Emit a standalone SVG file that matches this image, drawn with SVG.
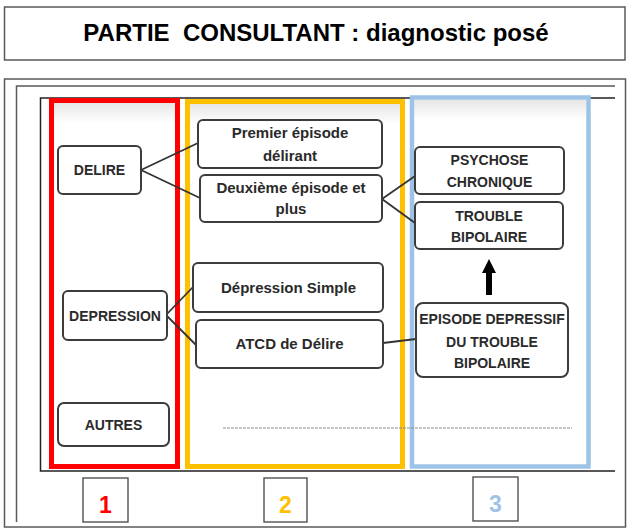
<svg xmlns="http://www.w3.org/2000/svg" width="628" height="530" viewBox="0 0 628 530">
<style>
.frame{fill:none;stroke:#5a5a5a;stroke-width:1.5}
.node{fill:#fff;stroke:#3c3c3c;stroke-width:2}
.t{font-family:"Liberation Sans",Arial,sans-serif;font-weight:bold;font-size:14px;fill:#2a2a2a;text-anchor:middle}
.tm{font-size:15px}
.conn{stroke:#333;stroke-width:1.8;fill:none}
.num{font-family:"Liberation Sans",Arial,sans-serif;font-weight:bold;font-size:23px;text-anchor:middle}
.nbox{fill:#fff;stroke:#444;stroke-width:1.3}
</style>
<defs>
<linearGradient id="shade" x1="0" y1="0" x2="0" y2="1">
<stop offset="0" stop-color="#e6e6e6"/>
<stop offset="1" stop-color="#ffffff"/>
</linearGradient>
</defs>
<rect width="628" height="530" fill="#fff"/>
<g id="title">
<rect class="frame" x="4.5" y="7" width="620.5" height="53"/>
<text x="316" y="41" font-family="'Liberation Sans',Arial,sans-serif" font-weight="bold" font-size="24" fill="#000" text-anchor="middle" xml:space="preserve">PARTIE  CONSULTANT : diagnostic posé</text>
</g>
<g id="borders">
<rect class="frame" x="4.5" y="79" width="621" height="448"/>
<polyline class="frame" points="16.5,522 16.5,86 615,86" stroke="#666"/>
<polyline fill="none" stroke="#222" stroke-width="1.5" points="615,98 40.5,98 40.5,471 615,471"/>
</g>
<g id="columns">
<rect x="54" y="103" width="121" height="20" fill="url(#shade)"/>
<rect x="190" y="104" width="210" height="20" fill="url(#shade)"/>
<rect x="414.5" y="100" width="171.5" height="20" fill="url(#shade)"/>
<rect id="col1" x="51.5" y="100.5" width="126" height="366" fill="none" stroke="#ff0000" stroke-width="5"/>
<rect id="col2" x="187.5" y="101.5" width="215" height="365" fill="none" stroke="#ffc000" stroke-width="5"/>
<rect id="col3" x="412" y="97.5" width="176.5" height="369" fill="none" stroke="#9dc3e6" stroke-width="4.5"/>
</g>
<g id="connectors">
<line class="conn" x1="141" y1="170" x2="198" y2="143"/>
<line class="conn" x1="141" y1="170" x2="200" y2="198"/>
<line class="conn" x1="382" y1="199" x2="415" y2="176"/>
<line class="conn" x1="382" y1="199" x2="415" y2="223"/>
<line class="conn" x1="166" y1="315" x2="193" y2="287"/>
<line class="conn" x1="166" y1="315" x2="196" y2="345"/>
<line class="conn" x1="383" y1="343" x2="416" y2="339"/>
<polygon points="489,259 496,273 492,273 492,295 486,295 486,273 482,273" fill="#000"/>
<line x1="223" y1="428" x2="572" y2="428" stroke="#8c8c8c" stroke-width="1" stroke-dasharray="3 1"/>
</g>
<g id="delire">
<rect class="node" x="58" y="146" width="83" height="48" rx="5"/>
<text class="t" x="99.5" y="175">DELIRE</text>
</g>
<g id="depression">
<rect class="node" x="63" y="291" width="104" height="49" rx="5"/>
<text class="t" x="115" y="320.5">DEPRESSION</text>
</g>
<g id="autres">
<rect class="node" x="58" y="403" width="111" height="43" rx="6"/>
<text class="t" x="113.5" y="430">AUTRES</text>
</g>
<g id="premier">
<rect class="node" x="198" y="120" width="184" height="48" rx="5"/>
<text class="t tm" x="290" y="138">Premier épisode</text>
<text class="t tm" x="290" y="161">délirant</text>
</g>
<g id="deuxieme">
<rect class="node" x="200" y="175" width="182" height="47" rx="5"/>
<text class="t tm" x="291" y="193">Deuxième épisode et</text>
<text class="t tm" x="291" y="214">plus</text>
</g>
<g id="depsimple">
<rect class="node" x="193" y="263" width="190" height="49" rx="5"/>
<text class="t tm" x="288.5" y="292.5">Dépression Simple</text>
</g>
<g id="atcd">
<rect class="node" x="196" y="320" width="187" height="48" rx="5"/>
<text class="t tm" x="289.5" y="349">ATCD de Délire</text>
</g>
<g id="psychose">
<rect class="node" x="415" y="147" width="149" height="47" rx="5"/>
<text class="t" x="489.5" y="165">PSYCHOSE</text>
<text class="t" x="489.5" y="187">CHRONIQUE</text>
</g>
<g id="trouble">
<rect class="node" x="415" y="202" width="148" height="47" rx="5"/>
<text class="t" x="489" y="221">TROUBLE</text>
<text class="t" x="489" y="242">BIPOLAIRE</text>
</g>
<g id="episode">
<rect class="node" x="416" y="303" width="152" height="74" rx="7"/>
<text class="t" x="492" y="324">EPISODE DEPRESSIF</text>
<text class="t" x="492" y="347">DU TROUBLE</text>
<text class="t" x="492" y="368">BIPOLAIRE</text>
</g>
<g id="num1">
<rect class="nbox" x="83" y="478" width="45" height="44"/>
<text class="num" x="105.5" y="513" fill="#ff0000">1</text>
</g>
<g id="num2">
<rect class="nbox" x="264" y="478" width="43" height="44"/>
<text class="num" x="285.5" y="513" fill="#ffc000">2</text>
</g>
<g id="num3">
<rect class="nbox" x="473" y="477" width="45" height="44"/>
<text class="num" x="495.5" y="512" fill="#9dc3e6">3</text>
</g>
</svg>
